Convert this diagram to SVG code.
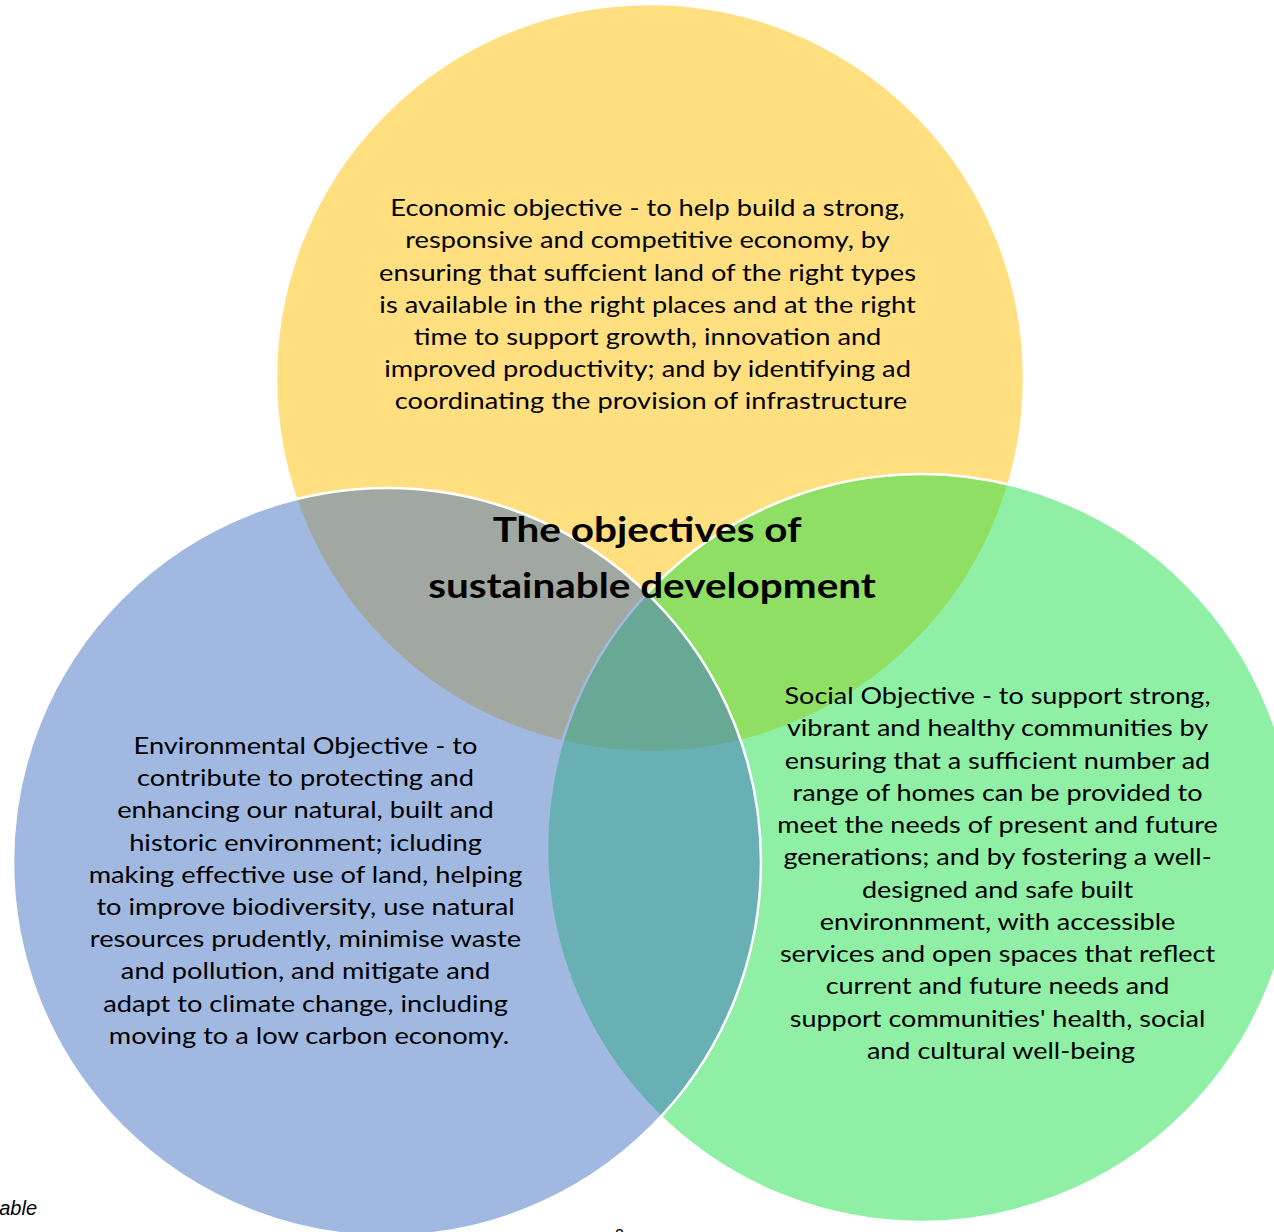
<svg xmlns="http://www.w3.org/2000/svg" width="1274" height="1232" viewBox="0 0 1274 1232">
<style>
.c{fill-opacity:0.5;stroke:#FFFFFF;stroke-width:2.5}
.t{font-family:Lato,"Open Sans","Liberation Sans",sans-serif;font-size:22.5px;fill:#000000;text-anchor:middle}
.h{font-family:Lato,"Open Sans","Liberation Sans",sans-serif;font-size:34px;font-weight:bold;fill:#000000;text-anchor:middle}
</style>
<rect width="1274" height="1232" fill="#FFFFFF"/>
<g id="economic">
<circle class="c" cx="650" cy="378" r="374" fill="#FFC000"/>
<text class="t" transform="translate(651 0) scale(1.21 1)">
<tspan x="0" y="216">Economic objective - to help build a strong,</tspan>
<tspan x="0" y="248">responsive and competitive economy, by</tspan>
<tspan x="0" y="281">ensuring that suffcient land of the right types</tspan>
<tspan x="0" y="313">is available in the right places and at the right</tspan>
<tspan x="0" y="345">time to support growth, innovation and</tspan>
<tspan x="0" y="377">improved productivity; and by identifying ad</tspan>
<tspan x="0" y="409">coordinating the provision of infrastructure</tspan>
</text>
</g>
<g id="social">
<circle class="c" cx="921" cy="848" r="374" fill="#20DF4C"/>
<text class="t" transform="translate(1001 0) scale(1.2 1)">
<tspan x="0" y="704">Social Objective - to support strong,</tspan>
<tspan x="0" y="736">vibrant and healthy communities by</tspan>
<tspan x="0" y="769">ensuring that a sufficient number ad</tspan>
<tspan x="0" y="801">range of homes can be provided to</tspan>
<tspan x="0" y="833">meet the needs of present and future</tspan>
<tspan x="0" y="865">generations; and by fostering a well-</tspan>
<tspan x="0" y="898">designed and safe built</tspan>
<tspan x="0" y="930">environnment, with accessible</tspan>
<tspan x="0" y="962">services and open spaces that reflect</tspan>
<tspan x="0" y="994">current and future needs and</tspan>
<tspan x="0" y="1027">support communities' health, social</tspan>
<tspan x="0" y="1059">and cultural well-being</tspan>
</text>
</g>
<g id="environmental">
<circle class="c" cx="387" cy="862" r="374" fill="#4472C4"/>
<text class="t" transform="translate(309 0) scale(1.21 1)">
<tspan x="0" y="754">Environmental Objective - to</tspan>
<tspan x="0" y="786">contribute to protecting and</tspan>
<tspan x="0" y="818">enhancing our natural, built and</tspan>
<tspan x="0" y="851">historic environment; icluding</tspan>
<tspan x="0" y="883">making effective use of land, helping</tspan>
<tspan x="0" y="915">to improve biodiversity, use natural</tspan>
<tspan x="0" y="947">resources prudently, minimise waste</tspan>
<tspan x="0" y="979">and pollution, and mitigate and</tspan>
<tspan x="0" y="1012">adapt to climate change, including</tspan>
<tspan x="0" y="1044">moving to a low carbon economy.</tspan>
</text>
</g>
<g id="title">
<text class="h" transform="translate(652 0) scale(1.19 1)">
<tspan x="0" y="542">The objectives of</tspan>
<tspan x="0" y="598">sustainable development</tspan>
</text>
</g>
<g id="connectors"></g>
<g id="page-fragments">
<text x="37" y="1215" font-family="'Liberation Sans',Arial,sans-serif" font-size="20" font-style="italic" text-anchor="end">able</text>
<text x="615" y="1241" font-family="'Liberation Sans',Arial,sans-serif" font-size="16">2</text>
</g>
</svg>
